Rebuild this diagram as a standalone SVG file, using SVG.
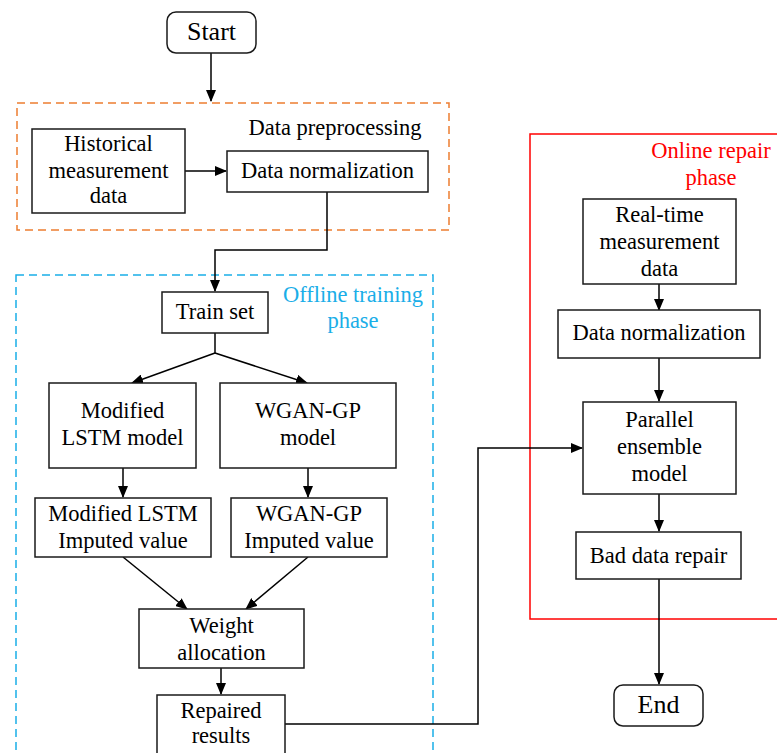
<svg xmlns="http://www.w3.org/2000/svg" width="777" height="753" viewBox="0 0 777 753">
<defs>
<marker id="ah" markerWidth="12" markerHeight="10" refX="11" refY="5" orient="auto" markerUnits="userSpaceOnUse">
<path d="M0,0 L12,5 L0,10 Z" fill="#000"/>
</marker>
<style>
text{font-family:"Liberation Serif","Times New Roman",serif;font-size:22.5px;fill:#000;text-anchor:middle}
.box{fill:#fff;stroke:#1a1a1a;stroke-width:1.5}
.c{fill:none;stroke:#000;stroke-width:1.5}
.a{marker-end:url(#ah)}
.region{fill:none;stroke-width:1.5}
.blue{fill:#1aaee8}
.red{fill:#ff0000}
.big{font-size:26px}
</style>
</defs>
<rect width="777" height="753" fill="#fff"/>
<g id="regions">
<rect class="region" x="17" y="103" width="432" height="127" stroke="#ed7d31" stroke-dasharray="8,5"/>
<rect class="region" x="16" y="275" width="417" height="490" stroke="#1aaee8" stroke-dasharray="8,5"/>
<rect class="region" x="530" y="134" width="260" height="485" stroke="#ff0000"/>
<text x="335" y="135">Data preprocessing</text>
<text class="blue" x="353" y="302">Offline training</text>
<text class="blue" x="353" y="328">phase</text>
<text class="red" x="711" y="158">Online repair</text>
<text class="red" x="711" y="185">phase</text>
</g>
<g id="connectors">
<path class="c a" d="M211,53 V101"/>
<path class="c a" d="M185,171 H226"/>
<path class="c a" d="M327,192 V250 H215 V291"/>
<path class="c" d="M215,333 V353"/>
<path class="c a" d="M215,353 L132,383"/>
<path class="c a" d="M215,353 L307,383"/>
<path class="c a" d="M123,468 V497"/>
<path class="c a" d="M308,468 V497"/>
<path class="c a" d="M123,557 L187,609"/>
<path class="c a" d="M308,557 L246,609"/>
<path class="c a" d="M221,668 V694"/>
<path class="c a" d="M285,724 H478 V448 H582"/>
<path class="c a" d="M659,284 V310"/>
<path class="c a" d="M659,358 V401"/>
<path class="c a" d="M659,494 V531"/>
<path class="c a" d="M659,579 V684"/>
</g>
<g id="start">
<rect class="box" x="167" y="12" width="89" height="41" rx="9"/>
<text class="big" x="211.5" y="40">Start</text>
</g>
<g id="historical">
<rect class="box" x="32" y="129" width="153" height="84"/>
<text x="108.5" y="151">Historical</text>
<text x="108.5" y="178">measurement</text>
<text x="108.5" y="203">data</text>
</g>
<g id="normalization1">
<rect class="box" x="227" y="151" width="201" height="41"/>
<text x="327.5" y="178">Data normalization</text>
</g>
<g id="trainset">
<rect class="box" x="162" y="292" width="106" height="41"/>
<text x="215" y="319">Train set</text>
</g>
<g id="lstm">
<rect class="box" x="49" y="383" width="147" height="85"/>
<text x="122.5" y="418">Modified</text>
<text x="122.5" y="445">LSTM model</text>
</g>
<g id="wgan">
<rect class="box" x="220" y="383" width="176" height="85"/>
<text x="308" y="418">WGAN-GP</text>
<text x="308" y="445">model</text>
</g>
<g id="lstm-imputed">
<rect class="box" x="35" y="498" width="176" height="59"/>
<text x="123" y="521">Modified LSTM</text>
<text x="123" y="548">Imputed value</text>
</g>
<g id="wgan-imputed">
<rect class="box" x="231" y="498" width="156" height="59"/>
<text x="309" y="521">WGAN-GP</text>
<text x="309" y="548">Imputed value</text>
</g>
<g id="weight">
<rect class="box" x="139" y="609" width="165" height="59"/>
<text x="221.5" y="633">Weight</text>
<text x="221.5" y="660">allocation</text>
</g>
<g id="repaired">
<rect class="box" x="157" y="695" width="128" height="70"/>
<text x="221" y="718">Repaired</text>
<text x="221" y="743">results</text>
</g>
<g id="realtime">
<rect class="box" x="583" y="199" width="153" height="85"/>
<text x="659.5" y="222">Real-time</text>
<text x="659.5" y="249">measurement</text>
<text x="659.5" y="276">data</text>
</g>
<g id="normalization2">
<rect class="box" x="558" y="310" width="202" height="48"/>
<text x="659" y="340">Data normalization</text>
</g>
<g id="ensemble">
<rect class="box" x="583" y="402" width="153" height="92"/>
<text x="659.5" y="427">Parallel</text>
<text x="659.5" y="454">ensemble</text>
<text x="659.5" y="481">model</text>
</g>
<g id="baddata">
<rect class="box" x="576" y="532" width="165" height="47"/>
<text x="658.5" y="563">Bad data repair</text>
</g>
<g id="end">
<rect class="box" x="614" y="685" width="89" height="41" rx="9"/>
<text class="big" x="658.5" y="713">End</text>
</g>
</svg>
